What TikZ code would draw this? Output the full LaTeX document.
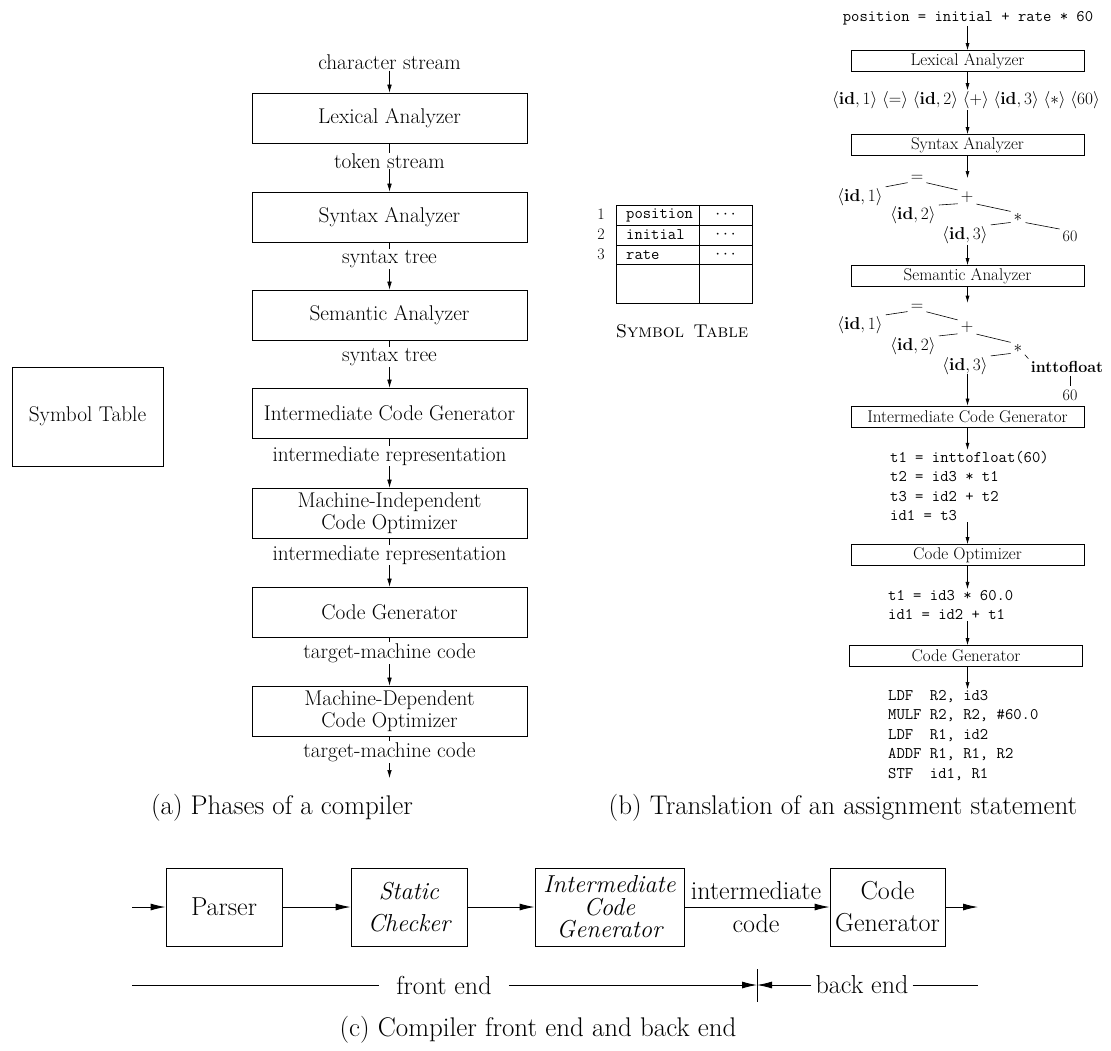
\documentclass[tikz,border=0pt]{standalone}
\usetikzlibrary{arrows.meta}

% type sizes for the three panels
\newcommand{\colfont}{\fontsize{21.3}{21.5}\selectfont}
\newcommand{\rfont}{\fontsize{16}{19}\selectfont}
\newcommand{\boxfont}{\fontsize{17}{19}\selectfont}
\newcommand{\codefont}{\fontsize{16.2}{19.5}\selectfont\ttfamily}
\newcommand{\fefont}{\fontsize{26}{32}\selectfont}
\newcommand{\feitfont}{\fontsize{24.5}{32}\selectfont\itshape}
\newcommand{\capfont}{\fontsize{27}{30}\selectfont}
\newcommand{\tok}[1]{\langle #1\rangle}

\tikzset{
  phase/.style={draw, line width=0.7pt, minimum width=275pt, minimum height=50pt,
                inner sep=2pt, font=\colfont, align=center},
  lab/.style={font=\colfont, fill=white, inner sep=1pt},
  arr/.style={-{Latex[length=8pt,width=4.5pt]}, line width=0.6pt},
  stage/.style={draw, line width=0.7pt, minimum width=233pt, minimum height=21pt,
                inner sep=0pt, font=\boxfont},
  rtxt/.style={font=\rfont, inner sep=1pt},
  code/.style={font=\codefont, align=left, inner sep=1pt},
  rarr/.style={-{Latex[length=7pt,width=4pt]}, line width=0.6pt},
  tline/.style={line width=0.6pt, shorten <=2pt, shorten >=2pt},
  fe/.style={draw, line width=0.9pt, minimum height=78pt, inner sep=2pt, align=center},
  bigarr/.style={-{Latex[length=15pt,width=7pt]}, line width=0.9pt},
  plain/.style={line width=0.9pt},
  capt/.style={font=\capfont, inner sep=0pt}
}

\begin{document}
\begin{tikzpicture}[x=1pt, y=-1pt]
\useasboundingbox (0,0) rectangle (1111,1050);

% ---------- (a) phases of a compiler ----------
\node[draw, line width=0.7pt, minimum width=151pt, minimum height=99pt, font=\colfont]
  (symtab) at (87.5,416.5) {Symbol Table};

\node[lab] (cs) at (389.5,62) {character stream};
\node[phase] (lex)  at (389.5,118) {Lexical Analyzer};
\node[phase] (syn)  at (389.5,217) {Syntax Analyzer};
\node[phase] (sem)  at (389.5,315) {Semantic Analyzer};
\node[phase] (icg)  at (389.5,413) {Intermediate Code Generator};
\node[phase] (mico) at (389.5,513) {Machine-Independent\\Code Optimizer};
\node[phase] (cg)   at (389.5,612) {Code Generator};
\node[phase] (mdco) at (389.5,711) {Machine-Dependent\\Code Optimizer};
\coordinate (aout) at (389.5,778);

\draw[arr] (cs) -- (lex);
\draw[arr] (lex) -- (syn);
\draw[arr] (syn) -- (sem);
\draw[arr] (sem) -- (icg);
\draw[arr] (icg) -- (mico);
\draw[arr] (mico) -- (cg);
\draw[arr] (cg) -- (mdco);
\draw[arr] (mdco) -- (aout);

\node[lab] (l1) at (389.5,161) {token stream};
\node[lab] (l2) at (389.5,259) {syntax tree};
\node[lab] (l3) at (389.5,357) {syntax tree};
\node[lab] (l4) at (389.5,456) {intermediate representation};
\node[lab] (l5) at (389.5,555) {intermediate representation};
\node[lab] (l6) at (389.5,653) {target-machine code};
\node[lab] (l7) at (389.5,752) {target-machine code};

% ---------- symbol table contents ----------
\draw[line width=0.7pt] (616,205) rectangle (752,303);
\draw[line width=0.7pt] (699,205) -- (699,303);
\draw[line width=0.7pt] (616,225) -- (752,225);
\draw[line width=0.7pt] (616,245) -- (752,245);
\draw[line width=0.7pt] (616,264) -- (752,264);
\node[rtxt] (n1) at (601,214) {1};
\node[rtxt] (n2) at (601,234) {2};
\node[rtxt] (n3) at (601,254) {3};
\node[code, anchor=west] (e1) at (625,215) {position};
\node[code, anchor=west] (e2) at (625,235) {initial};
\node[code, anchor=west] (e3) at (625,255) {rate};
\node[rtxt] (d1) at (725.5,215) {$\cdots$};
\node[rtxt] (d2) at (725.5,235) {$\cdots$};
\node[rtxt] (d3) at (725.5,255) {$\cdots$};
\node[rtxt, font=\fontsize{18.5}{20}\selectfont] (sttitle) at (682,331)
  {\textsc{Symbol\enspace Table}};

% ---------- (b) translation of an assignment ----------
\node[code] (expr) at (968,18) {position = initial + rate * 60};
\node[stage] (rlex) at (967.5,61) {Lexical Analyzer};
\node[rtxt] (toks) at (966,100)
  {$\tok{\mathbf{id},1}\ \tok{=}\ \tok{\mathbf{id},2}\ \tok{+}\
    \tok{\mathbf{id},3}\ \tok{*}\ \tok{60}$};
\node[stage] (rsyn) at (967.5,145) {Syntax Analyzer};

% syntax tree
\node[rtxt] (eqA)  at (917,178)  {$=$};
\node[rtxt] (idA1) at (860,197)  {$\tok{\mathbf{id},1}$};
\node[rtxt] (plA)  at (967,197)  {$+$};
\node[rtxt] (idA2) at (913,215)  {$\tok{\mathbf{id},2}$};
\node[rtxt] (stA)  at (1018,217) {$*$};
\node[rtxt] (idA3) at (965,235)  {$\tok{\mathbf{id},3}$};
\node[rtxt] (sxA)  at (1070,236) {60};
\draw[tline] (idA1.north east) -- (eqA.south west);
\draw[tline] (eqA.south east) -- (plA.north west);
\draw[tline] (plA.south west) -- (idA2.north east);
\draw[tline] (plA.south east) -- (stA.north west);
\draw[tline] (stA.south west) -- (idA3.north east);
\draw[tline] (stA.south east) -- (sxA.north west);

\node[stage] (rsem) at (967.5,276) {Semantic Analyzer};

% annotated syntax tree
\node[rtxt] (eqB)  at (917,307)  {$=$};
\node[rtxt] (idB1) at (860,325)  {$\tok{\mathbf{id},1}$};
\node[rtxt] (plB)  at (967,327)  {$+$};
\node[rtxt] (idB2) at (913,346)  {$\tok{\mathbf{id},2}$};
\node[rtxt] (stB)  at (1018,348) {$*$};
\node[rtxt] (idB3) at (965,366)  {$\tok{\mathbf{id},3}$};
\node[rtxt] (itf)  at (1067,367) {\textbf{inttofloat}};
\node[rtxt] (sxB)  at (1070,395) {60};
\draw[tline] (idB1.north east) -- (eqB.south west);
\draw[tline] (eqB.south east) -- (plB.north west);
\draw[tline] (plB.south west) -- (idB2.north east);
\draw[tline] (plB.south east) -- (stB.north west);
\draw[tline] (stB.south west) -- (idB3.north east);
\draw[tline] (stB.south east) -- (itf.north west);
\draw[tline] (itf.south -| sxB) -- (sxB.north);

\node[stage] (ricg) at (967.5,416.5) {Intermediate Code Generator};
\node[code, anchor=west] (tac) at (889,486)
  {t1 = inttofloat(60)\\t2 = id3 * t1\\t3 = id2 + t2\\id1 = t3};
\node[stage] (ropt) at (967.5,555) {Code Optimizer};
\node[code, anchor=west] (otac) at (887,605) {t1 = id3 * 60.0\\id1 = id2 + t1};
\node[stage] (rcg) at (966,656) {Code Generator};
\node[code, anchor=west] (asm) at (887,735.5)
  {LDF\ \ R2, id3\\MULF R2, R2, \#60.0\\LDF\ \ R1, id2\\ADDF R1, R1, R2\\STF\ \ id1, R1};

\draw[rarr] (expr.south -| rlex) -- (rlex);
\draw[rarr] (rlex) -- (rlex.south |- toks.north);
\draw[rarr] (rsyn.north |- toks.south) -- (rsyn);
\draw[rarr] (rsyn) -- (rsyn.south |- eqA);
\draw[rarr] (rsem.north |- idA3.south) -- (rsem);
\draw[rarr] (rsem) -- (rsem.south |- eqB.north);
\draw[rarr] (ricg.north |- itf.south) -- (ricg);
\draw[rarr] (ricg) -- (ricg.south |- tac.north);
\draw[rarr] (ropt.north |- tac.south) -- (ropt);
\draw[rarr] (ropt) -- (ropt.south |- otac.north);
\draw[rarr] (rlex.north |- otac.south) -- (rcg.north -| rlex);
\draw[rarr] (rcg.south -| rlex) -- (rlex.south |- asm.north);

% ---------- captions of (a) and (b) ----------
\node[capt] (capa) at (282,808) {(a) Phases of a compiler};
\node[capt] (capb) at (843,808) {(b) Translation of an assignment statement};

% ---------- (c) front end and back end ----------
\coordinate (cin) at (132,907);
\node[fe, minimum width=116pt, font=\fefont] (parser) at (224,907) {Parser};
\node[fe, minimum width=116pt, font=\feitfont] (chk) at (409,907) {Static\\Checker};
\node[fe, minimum width=149pt, font=\fontsize{24.5}{22.5}\selectfont\itshape] (icgc)
  at (609.5,907) {Intermediate\\Code\\Generator};
\node[fe, minimum width=115pt, font=\fefont] (cgc) at (887.5,907) {Code\\Generator};
\coordinate (cout) at (978,907);

\draw[bigarr] (cin) -- (parser);
\draw[bigarr] (parser) -- (chk);
\draw[bigarr] (chk) -- (icgc);
\draw[bigarr] (icgc) -- (cgc);
\draw[bigarr] (cgc) -- (cout);
\node[font=\fefont, inner sep=0pt] (imlab) at (756,891) {intermediate};
\node[font=\fefont, inner sep=0pt] (cdlab) at (756,924) {code};

\coordinate (fel) at (132,985);
\node[font=\fefont, inner xsep=17pt, inner ysep=1pt] (front) at (444,985) {front end};
\coordinate (split) at (757,985);
\coordinate (splitT) at (757,969);
\coordinate (splitB) at (757,1002);
\node[font=\fefont, inner xsep=4pt, inner ysep=1pt] (back) at (862,985) {back end};
\coordinate (ber) at (978,985);

\draw[plain] (fel) -- (front);
\draw[bigarr] (front) -- (split);
\draw[plain] (splitT) -- (splitB);
\draw[bigarr] (back) -- (split);
\draw[plain] (back) -- (ber);

\node[capt] (capc) at (538,1030) {(c) Compiler front end and back end};
\end{tikzpicture}
\end{document}
